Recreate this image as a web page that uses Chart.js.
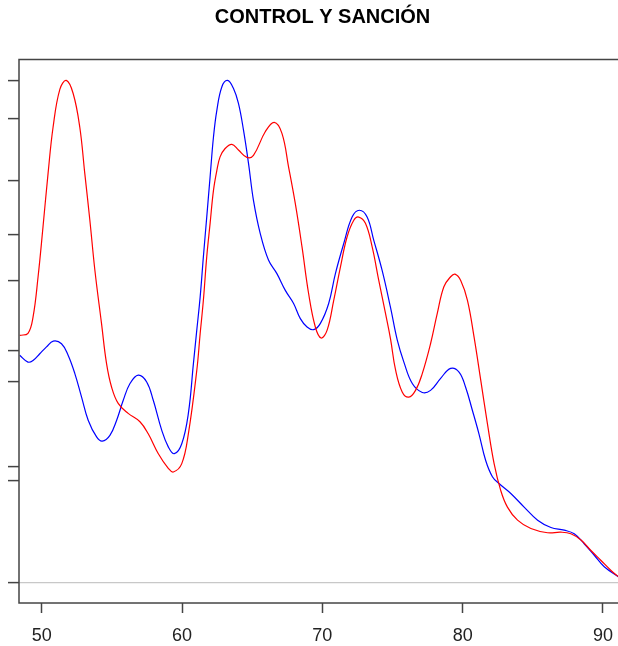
<!DOCTYPE html>
<html>
<head>
<meta charset="utf-8">
<script src="https://cdn.jsdelivr.net/npm/chart.js@4"></script>
<style>
    body { margin: 0; background: #fff; overflow: hidden; }
    #wrap { width: 645px; height: 646px; }
</style>
</head>
<body>
<div id="wrap"><canvas id="chart"></canvas></div>
<script>
const chartTitle = 'CONTROL Y SANCIÓN';

// red curve
const redX = [48.43, 49.02, 49.38, 49.74, 50.09, 50.45, 50.81, 51.29, 51.75, 52.24, 52.71, 53.07, 53.43, 53.79,
    54.26, 54.62, 54.98, 55.45, 56.16, 57.00, 57.59, 58.31, 59.02, 59.38, 59.98, 60.45, 61.05, 61.29, 61.52,
    61.76, 62.00, 62.24, 62.48, 62.71, 63.07, 63.55, 64.02, 64.62, 65.09, 65.93, 66.57, 67.12, 67.59, 68.07,
    68.55, 69.02, 69.50, 69.91, 70.34, 70.81, 71.29, 71.76, 72.24, 72.59, 73.07, 73.55, 74.02, 74.50, 74.86,
    75.21, 75.69, 76.16, 76.64, 77.12, 77.71, 78.19, 78.66, 79.14, 79.45, 79.86, 80.34, 80.81, 81.29, 81.76,
    82.24, 82.71, 83.19, 83.91, 84.86, 86.05, 87.00, 87.71, 88.43, 89.14, 89.86, 90.57, 91.14];
const redY = [47.3, 47.7, 50.8, 58.5, 68.0, 78.2, 87.1, 94.3, 96.0, 93.5, 87.1, 78.2, 69.3, 59.7,
    49.6, 41.9, 37.4, 34.3, 32.4, 30.8, 28.5, 24.7, 21.9, 21.2, 22.8, 28.5, 40.6, 47.6, 54.0,
    62.3, 68.7, 75.0, 78.8, 81.4, 83.0, 83.8, 82.7, 81.3, 81.7, 86.2, 88.0, 85.9, 79.5, 72.5,
    64.2, 55.3, 48.9, 46.8, 48.3, 54.0, 60.4, 66.1, 69.3, 69.9, 68.7, 64.2, 57.8, 51.5, 46.6,
    40.8, 36.5, 35.5, 36.8, 40.0, 45.7, 51.5, 56.6, 58.5, 59.0, 57.8, 54.0, 47.0, 38.7, 30.5,
    22.8, 17.7, 14.5, 12.0, 10.4, 9.6, 9.7, 9.4, 8.2, 6.2, 4.3, 2.4, 1.1];

// blue curve
const blueX = [48.43, 49.02, 49.38, 49.86, 50.34, 50.82, 51.41, 51.88, 52.36, 52.84, 53.31, 53.91, 54.31, 54.86,
    55.34, 55.81, 56.29, 56.88, 57.48, 57.95, 58.55, 59.02, 59.45, 59.98, 60.45, 60.81, 61.05, 61.29, 61.52,
    61.76, 62.00, 62.24, 62.48, 62.84, 63.24, 63.66, 64.02, 64.38, 64.74, 65.09, 65.57, 66.16, 66.76, 67.36,
    67.95, 68.43, 68.91, 69.38, 69.86, 70.45, 70.93, 71.52, 72.12, 72.64, 73.19, 73.66, 74.26, 74.86, 75.34,
    75.81, 76.41, 77.12, 77.71, 78.43, 79.14, 79.74, 80.21, 80.69, 81.16, 81.64, 82.12, 82.59, 83.43, 84.38,
    85.34, 86.29, 87.24, 87.95, 88.66, 89.38, 90.09, 91.14];
const blueY = [43.5, 42.2, 42.5, 43.8, 45.1, 46.2, 45.7, 43.5, 40.0, 35.5, 31.1, 27.9, 27.1, 28.2,
    31.1, 34.9, 38.1, 39.7, 38.4, 34.9, 29.2, 26.0, 24.7, 26.6, 32.4, 41.9, 48.3, 54.6, 62.3,
    69.9, 77.6, 85.2, 90.3, 94.8, 96.0, 94.5, 91.6, 86.5, 80.1, 73.1, 66.8, 61.7, 59.1, 55.9,
    53.4, 50.5, 48.9, 48.4, 49.6, 53.4, 59.1, 64.8, 69.9, 71.2, 69.9, 65.5, 59.7, 52.6, 46.4,
    42.2, 38.1, 36.4, 36.8, 39.1, 41.0, 40.3, 37.4, 33.0, 28.5, 23.4, 20.3, 19.0, 17.1, 14.5,
    12.0, 10.6, 10.1, 9.4, 7.5, 5.3, 3.1, 1.1];

const xTickValues = [50, 60, 70, 80, 90];
const yTickValues = [0, 19.5, 22.3, 38.4, 44.3, 57.8, 66.6, 76.9, 88.7, 96.0];

const toPoints = (xs, ys) => xs.map((x, i) => ({ x: x, y: ys[i] }));

const frame = {
    id: 'frame',
    afterDatasetsDraw(chart) {
        const a = chart.chartArea;
        const ctx = chart.ctx;
        ctx.save();
        ctx.strokeStyle = '#444';
        ctx.lineWidth = 1.5;
        ctx.strokeRect(a.left, a.top, a.right - a.left, a.bottom - a.top);
        ctx.restore();
    }
};

new Chart(document.getElementById('chart'), {
    type: 'line',
    data: {
        datasets: [
            {
                data: toPoints(redX, redY),
                borderColor: '#ff0000',
                borderWidth: 1.2,
                pointRadius: 0,
                tension: 0.4
            },
            {
                data: toPoints(blueX, blueY),
                borderColor: '#0000ff',
                borderWidth: 1.2,
                pointRadius: 0,
                tension: 0.4
            }
        ]
    },
    options: {
        responsive: true,
        maintainAspectRatio: false,
        animation: false,
        layout: { padding: { left: 19, right: 19, top: 0, bottom: 0 } },
        plugins: {
            legend: { display: false },
            tooltip: { enabled: false },
            title: {
                display: true,
                text: chartTitle,
                color: '#000',
                font: { family: 'Liberation Sans', size: 20, weight: 'bold' },
                padding: { top: 5, bottom: 30.5 }
            }
        },
        scales: {
            x: {
                type: 'linear',
                min: 48.38,
                max: 91.64,
                afterBuildTicks: scale => { scale.ticks = xTickValues.map(v => ({ value: v })); },
                afterFit: scale => { scale.height = 43; },
                border: { display: false },
                grid: { drawOnChartArea: false, tickLength: 10, tickColor: '#444', tickWidth: 1.5 },
                ticks: {
                    color: '#222',
                    padding: 12,
                    maxRotation: 0,
                    font: { family: 'Liberation Sans', size: 18 }
                }
            },
            y: {
                min: -3.82,
                max: 100,
                afterBuildTicks: scale => { scale.ticks = yTickValues.map(v => ({ value: v })); },
                afterFit: scale => { scale.width = 0; },
                border: { display: false },
                grid: {
                    color: ctx => (ctx.tick && ctx.tick.value === 0) ? '#c8c8c8' : 'rgba(0,0,0,0)',
                    lineWidth: 1.2,
                    tickLength: 11,
                    tickColor: '#444',
                    tickWidth: 1.5
                },
                ticks: { display: false }
            }
        }
    },
    plugins: [frame]
});
</script>
</body>
</html>
